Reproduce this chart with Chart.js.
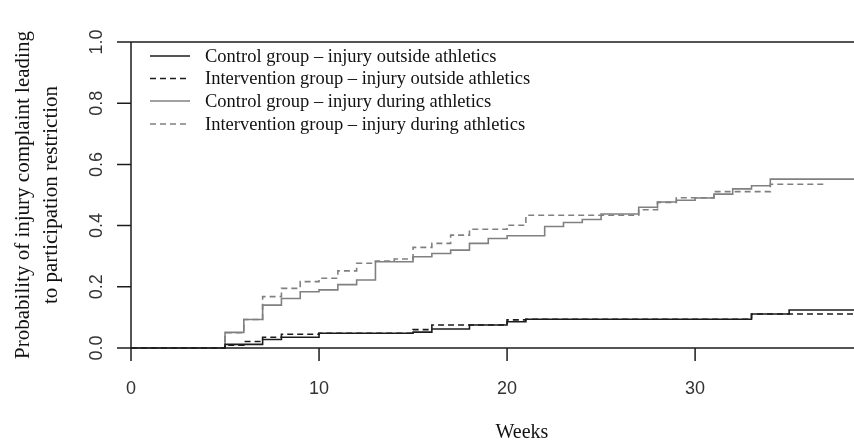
<!DOCTYPE html>
<html>
<head>
<meta charset="utf-8">
<script src="https://cdn.jsdelivr.net/npm/chart.js@4.4.0/dist/chart.umd.min.js"></script>
<style>
  html, body { margin: 0; padding: 0; background: #fff; }
  canvas { display: block; }
</style>
</head>
<body>
<canvas id="cumChart" width="854" height="447"></canvas>
<script>
// Week at which each curve steps up, and the probability it reaches there
const ctrlOutsideWeeks = [0, 5, 7, 8, 10, 15, 16, 18, 20, 21, 33, 35, 39];
const ctrlOutsideProb  = [0, 0.012, 0.028, 0.035, 0.048, 0.052, 0.062, 0.075, 0.086, 0.094, 0.111, 0.124, 0.124];

const intOutsideWeeks = [0, 5, 6, 7, 8, 10, 15, 16, 20, 21, 33, 39];
const intOutsideProb  = [0, 0.009, 0.021, 0.035, 0.045, 0.048, 0.06, 0.075, 0.092, 0.094, 0.111, 0.111];

const ctrlDuringWeeks = [0, 5, 6, 7, 8, 9, 10, 11, 12, 13, 15, 16, 17, 18, 19, 20, 22, 23, 24, 25, 27, 28, 29, 30, 31, 32, 33, 34, 39];
const ctrlDuringProb  = [0, 0.051, 0.093, 0.14, 0.162, 0.184, 0.19, 0.207, 0.222, 0.282, 0.298, 0.309, 0.32, 0.342, 0.358, 0.367, 0.397, 0.41, 0.42, 0.438, 0.46, 0.477, 0.483, 0.49, 0.503, 0.52, 0.53, 0.552, 0.552];

const intDuringWeeks = [0, 5, 6, 7, 8, 9, 10, 11, 12, 13, 14, 15, 16, 17, 18, 20, 21, 27, 28, 29, 31, 34, 37];
const intDuringProb  = [0, 0.05, 0.093, 0.168, 0.195, 0.217, 0.228, 0.252, 0.277, 0.284, 0.291, 0.329, 0.342, 0.369, 0.388, 0.401, 0.434, 0.452, 0.476, 0.491, 0.511, 0.535, 0.535];

const seriesLabels = [
    'Control group \u2013 injury outside athletics',
    'Intervention group \u2013 injury outside athletics',
    'Control group \u2013 injury during athletics',
    'Intervention group \u2013 injury during athletics'
];

const xTicks = [0, 10, 20, 30];
const xTickLabels = ['0', '10', '20', '30'];
const yTicks = [0, 0.2, 0.4, 0.6, 0.8, 1.0];
const yTickLabels = ['0.0', '0.2', '0.4', '0.6', '0.8', '1.0'];
const yTitle = ['Probability of injury complaint leading', 'to participation restriction'];
const xTitle = 'Weeks';

const BLACK = '#1c1c1c';
const GREY = '#808080';
const DASH = [6, 4];

function toPoints(weeks, probs) {
    return weeks.map((w, i) => ({ x: w, y: probs[i] }));
}

function stepSet(label, weeks, probs, color, dashed, order) {
    return {
        label: label,
        data: toPoints(weeks, probs),
        borderColor: color,
        borderWidth: 1.6,
        borderDash: dashed ? DASH : [],
        stepped: 'before',
        pointRadius: 0,
        fill: false,
        clip: false,
        order: order
    };
}

// R style axes, labels and legend, drawn with the chart's own scales
const rStyle = {
    id: 'rStyle',
    beforeDatasetsDraw(chart) {
        const ctx = chart.ctx;
        const xs = chart.scales.x, ys = chart.scales.y;
        const area = chart.chartArea;
        const y0 = ys.getPixelForValue(0);
        const y1 = ys.getPixelForValue(1);
        const x0 = xs.getPixelForValue(0);
        ctx.save();
        ctx.strokeStyle = BLACK;
        ctx.lineWidth = 1.5;
        ctx.beginPath();
        // x axis line, y axis line and top line
        ctx.moveTo(x0 - 14, y0); ctx.lineTo(area.right, y0);
        ctx.moveTo(x0, y1); ctx.lineTo(x0, y0);
        ctx.moveTo(x0 - 14, y1); ctx.lineTo(area.right, y1);
        yTicks.forEach(v => {
            const py = ys.getPixelForValue(v);
            ctx.moveTo(x0 - 14, py); ctx.lineTo(x0, py);
        });
        xTicks.forEach(v => {
            const px = xs.getPixelForValue(v);
            ctx.moveTo(px, y0); ctx.lineTo(px, y0 + 13);
        });
        ctx.stroke();
        ctx.restore();
    },
    afterDraw(chart) {
        const ctx = chart.ctx;
        const xs = chart.scales.x, ys = chart.scales.y;
        ctx.save();
        ctx.fillStyle = '#333';
        ctx.font = '18px "Liberation Sans", Arial, sans-serif';
        ctx.textAlign = 'center';
        ctx.textBaseline = 'alphabetic';
        xTicks.forEach((v, i) => {
            ctx.fillText(xTickLabels[i], xs.getPixelForValue(v), 394);
        });
        yTicks.forEach((v, i) => {
            ctx.save();
            ctx.translate(102, ys.getPixelForValue(v));
            ctx.rotate(-Math.PI / 2);
            ctx.fillText(yTickLabels[i], 0, 0);
            ctx.restore();
        });

        ctx.fillStyle = '#111';
        ctx.font = '20px "Liberation Serif", "Times New Roman", serif';
        ctx.fillText(xTitle, 522, 438);
        ctx.font = '21px "Liberation Serif", "Times New Roman", serif';
        [29, 57].forEach((bx, i) => {
            ctx.save();
            ctx.translate(bx, 195);
            ctx.rotate(-Math.PI / 2);
            ctx.fillText(yTitle[i], 0, 0);
            ctx.restore();
        });

        // legend
        ctx.font = '18.5px "Liberation Serif", "Times New Roman", serif';
        ctx.textAlign = 'left';
        ctx.textBaseline = 'middle';
        const rows = [56, 78.5, 101, 124];
        chart.data.datasets.forEach((ds, i) => {
            const ry = rows[i];
            ctx.save();
            ctx.strokeStyle = ds.borderColor;
            ctx.lineWidth = ds.borderWidth;
            ctx.setLineDash(ds.borderDash);
            ctx.beginPath();
            ctx.moveTo(150, ry); ctx.lineTo(190, ry);
            ctx.stroke();
            ctx.restore();
            ctx.fillStyle = '#111';
            ctx.fillText(ds.label, 205, ry + 1);
        });
        ctx.restore();
    }
};

new Chart(document.getElementById('cumChart'), {
    type: 'line',
    data: {
        datasets: [
            stepSet(seriesLabels[0], ctrlOutsideWeeks, ctrlOutsideProb, BLACK, false, 1),
            stepSet(seriesLabels[1], intOutsideWeeks, intOutsideProb, BLACK, true, 2),
            stepSet(seriesLabels[2], ctrlDuringWeeks, ctrlDuringProb, GREY, false, 3),
            stepSet(seriesLabels[3], intDuringWeeks, intDuringProb, GREY, true, 4)
        ]
    },
    options: {
        responsive: false,
        animation: false,
        devicePixelRatio: 1,
        layout: { padding: { left: 131, top: 42, right: 0, bottom: 99 } },
        scales: {
            x: { type: 'linear', min: 0, max: 38.45, display: false },
            y: { type: 'linear', min: 0, max: 1, display: false }
        },
        plugins: {
            legend: { display: false },
            tooltip: { enabled: false }
        }
    },
    plugins: [rStyle]
});
</script>
</body>
</html>
